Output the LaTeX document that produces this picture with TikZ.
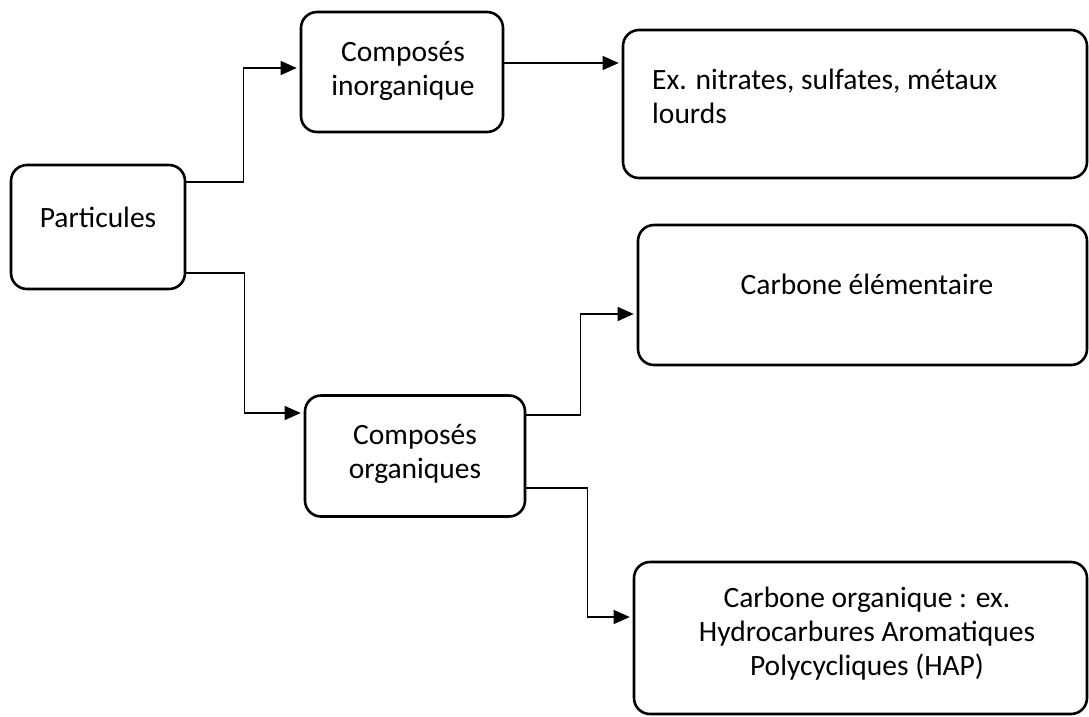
\documentclass[tikz,border=0pt]{standalone}
\usepackage{fontspec}
\setmainfont{Carlito}
\usetikzlibrary{arrows.meta}
\begin{document}
\begin{tikzpicture}[x=1pt,y=-1pt,
  box/.style={draw=black, line width=2.6pt, rounded corners=16pt, inner sep=0pt},
  txt/.style={inner sep=0pt, font=\fontsize{29.5}{34}\selectfont, align=center},
  conn/.style={draw=black, line width=1.2pt, -{Triangle[length=16pt,width=14pt]}, shorten >=3pt}]
\useasboundingbox (0,0) rectangle (1089,716);
% boxes
\node[box, minimum width=174pt, minimum height=124pt] (P) at (98,227) {};
\node[box, minimum width=202pt, minimum height=120pt] (CI) at (402,72) {};
\node[box, minimum width=464pt, minimum height=148pt] (EX) at (855,104) {};
\node[box, minimum width=220pt, minimum height=121pt] (CO) at (415,456) {};
\node[box, minimum width=449pt, minimum height=140pt] (CE) at (862.5,295) {};
\node[box, minimum width=453pt, minimum height=152pt] (CG) at (860.5,638) {};
% texts
\node[txt] (Pt) at (98,217) {Particules};
\node[txt] (CIt) at (403,71) {Composés\\inorganique};
\node[txt, align=left, anchor=west] (EXt) at (652,96) {Ex. nitrates, sulfates, métaux\\lourds};
\node[txt] (COt) at (415,454) {Composés\\organiques};
\node[txt] (CEt) at (867,284) {Carbone élémentaire};
\node[txt] (CGt) at (867,634) {Carbone organique : ex.\\Hydrocarbures Aromatiques\\Polycycliques (HAP)};
% connectors
\draw[conn] ([yshift=45pt]P.east) -- ++(57,0) |- ([yshift=4pt]CI.west);
\draw[conn] ([yshift=-46pt]P.east) -- ++(58,0) |- ([yshift=43pt]CO.west);
\draw[conn] ([yshift=9pt]CI.east) -- ([yshift=41pt]EX.west);
\draw[conn] ([yshift=41pt]CO.east) -- ++(54,0) |- ([yshift=-19pt]CE.west);
\draw[conn] ([yshift=-32pt]CO.east) -- ++(61,0) |- ([yshift=21pt]CG.west);
\end{tikzpicture}
\end{document}
